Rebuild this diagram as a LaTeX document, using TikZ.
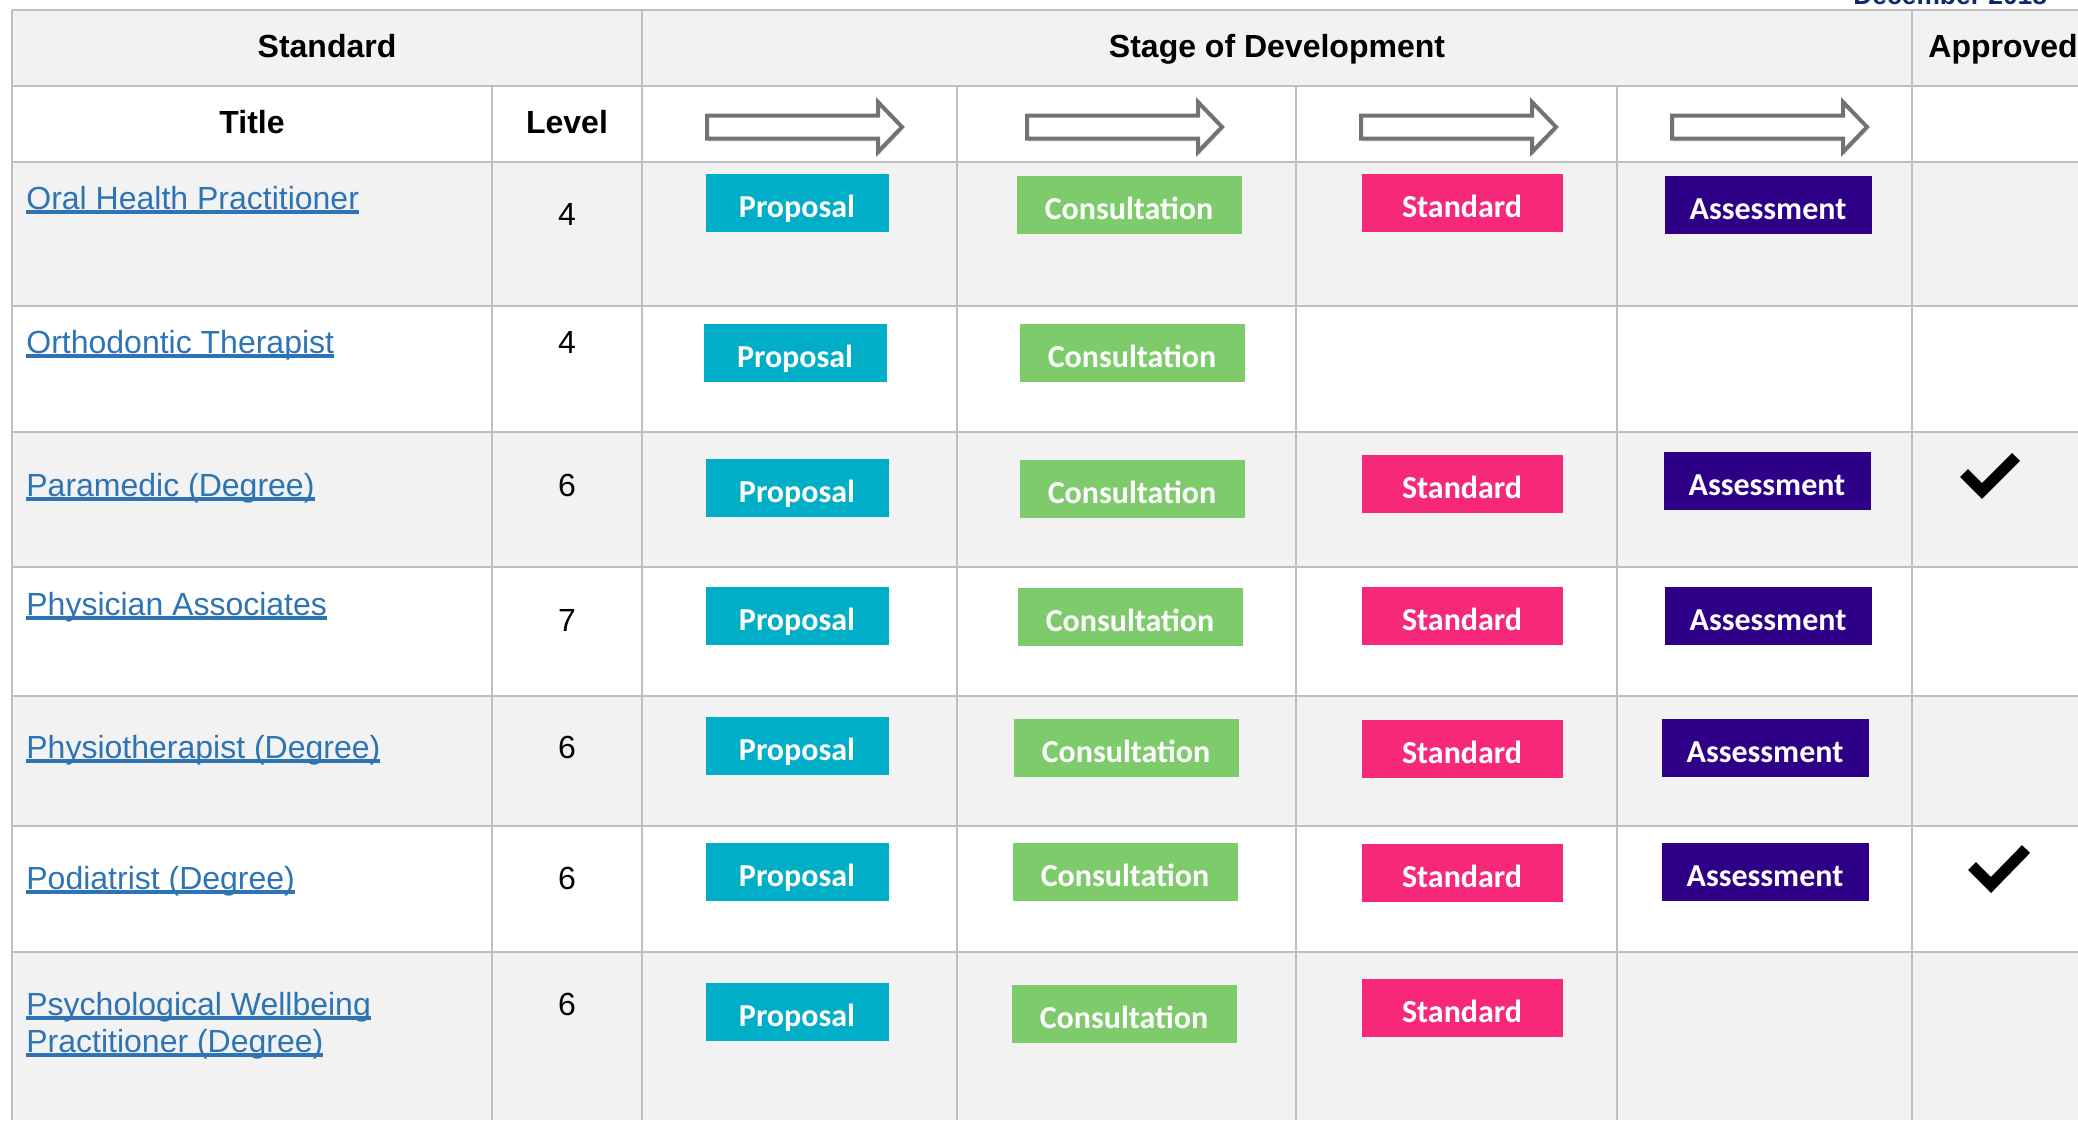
\documentclass[tikz,border=0pt]{standalone}
\usepackage{fontspec}
\setmainfont{Liberation Sans}
\newfontfamily\stagefont{Carlito}
\usetikzlibrary{shapes,shadows}

\definecolor{gridgray}{HTML}{BFBFBF}
\definecolor{cellgray}{HTML}{F2F2F2}
\definecolor{linkblue}{HTML}{2E74B5}
\definecolor{datenavy}{HTML}{0E2A6B}
\definecolor{arrowgray}{HTML}{767171}
\definecolor{propcyan}{HTML}{00AEC7}
\definecolor{consgreen}{HTML}{7ECB6C}
\definecolor{stdpink}{HTML}{F7287A}
\definecolor{assesspurple}{HTML}{2D0087}

% underlined link text
\newcommand{\ulink}[1]{\leavevmode\sbox0{#1}\rlap{\rule[-2.3pt]{\wd0}{1.6pt}}\usebox0}

\begin{document}
\begin{tikzpicture}[x=0.5pt, y=-0.5pt]
		\tikzstyle {cell line} = [gridgray, line width=1.25pt]
		\tikzstyle {head text} = [inner sep=0, anchor=base, font=\fontsize{16}{18.5}\selectfont\bfseries]
		\tikzstyle {title link} = [inner sep=0, anchor=base west, text=linkblue, font=\fontsize{16}{18.5}\selectfont]
		\tikzstyle {lvl text} = [inner sep=0, anchor=base, font=\fontsize{16}{18.5}\selectfont]
		\tikzstyle {stage box} = [inner sep=0, minimum height=29pt, text height=14pt, text depth=0pt, text=white, font=\fontsize{16}{18.5}\stagefont\bfseries]
		\tikzstyle {proposal} = [stage box, fill=propcyan, minimum width=91.5pt]
		\tikzstyle {consultation} = [stage box, fill=consgreen, minimum width=112.5pt]
		\tikzstyle {standard} = [stage box, fill=stdpink, minimum width=100.5pt]
		\tikzstyle {assessment} = [stage box, fill=assesspurple, minimum width=103.5pt]
		\tikzstyle {flow arrow} = [draw=arrowgray, line width=2pt, fill=white, drop shadow={opacity=0.18, shadow xshift=0.6pt, shadow yshift=-1.6pt}]
		\tikzstyle {tick} = [line width=5.6pt]

		\useasboundingbox (0,0) rectangle (2078,1120);

		% shaded rows
		\fill[cellgray] (12,10) rectangle (2078,86);
		\fill[cellgray] (12,162) rectangle (2078,306);
		\fill[cellgray] (12,432) rectangle (2078,567);
		\fill[cellgray] (12,696) rectangle (2078,826);
		\fill[cellgray] (12,952) rectangle (2078,1120);

		% grid
		\foreach \ry in {10,86,162,306,432,567,696,826,952}
			\draw[cell line] (12,\ry) -- (2078,\ry);
		\foreach \cx in {12,642,1912}
			\draw[cell line] (\cx,10) -- (\cx,1120);
		\foreach \cx in {492,957,1296,1617}
			\draw[cell line] (\cx,86) -- (\cx,1120);

		\node (date) [inner sep=0, anchor=base west, text=datenavy, font=\fontsize{13.2}{15}\selectfont\bfseries] at (1853,4) {December 2018};

		% headers
		\node (std) [head text] at (327,57) {Standard};
		\node (stage) [head text] at (1277,57) {Stage of Development};
		\node (appr) [head text, anchor=base west] at (1928,57) {Approved};
		\node (ttl) [head text] at (252,133) {Title};
		\node (lvl) [head text] at (567,133) {Level};

		\foreach \ax in {707,1027,1361,1672}
			\draw[flow arrow] (\ax,115.5) -- ++(171,0) -- ++(0,-13.5) -- ++(24,25) -- ++(-24,25) -- ++(0,-13.5) -- ++(-171,0) -- cycle;

		% titles and levels
		\node (t1) [title link] at (26,209) {\ulink{Oral Health Practitioner}};
		\node (t2) [title link] at (26,353) {\ulink{Orthodontic Therapist}};
		\node (t3) [title link] at (26,496) {\ulink{Paramedic (Degree)}};
		\node (t4) [title link] at (26,615) {\ulink{Physician Associates}};
		\node (t5) [title link] at (26,758) {\ulink{Physiotherapist (Degree)}};
		\node (t6) [title link] at (26,889) {\ulink{Podiatrist (Degree)}};
		\node (t7) [title link] at (26,1015) {\parbox[t]{250pt}{\ulink{Psychological Wellbeing}\\\ulink{Practitioner (Degree)}}};

		\node (l1) [lvl text] at (567,225) {4};
		\node (l2) [lvl text] at (567,353) {4};
		\node (l3) [lvl text] at (567,496) {6};
		\node (l4) [lvl text] at (567,631) {7};
		\node (l5) [lvl text] at (567,758) {6};
		\node (l6) [lvl text] at (567,889) {6};
		\node (l7) [lvl text] at (567,1015) {6};

		% stages
		\node (p1) [proposal] at (797,203) {Proposal};
		\node (c1) [consultation] at (1129,205) {Consultation};
		\node (s1) [standard] at (1462,203) {Standard};
		\node (a1) [assessment] at (1768,205) {Assessment};

		\node (p2) [proposal] at (795,353) {Proposal};
		\node (c2) [consultation] at (1132,353) {Consultation};

		\node (p3) [proposal] at (797,488) {Proposal};
		\node (c3) [consultation] at (1132,489) {Consultation};
		\node (s3) [standard] at (1462,484) {Standard};
		\node (a3) [assessment] at (1767,481) {Assessment};

		\node (p4) [proposal] at (797,616) {Proposal};
		\node (c4) [consultation] at (1130,617) {Consultation};
		\node (s4) [standard] at (1462,616) {Standard};
		\node (a4) [assessment] at (1768,616) {Assessment};

		\node (p5) [proposal] at (797,746) {Proposal};
		\node (c5) [consultation] at (1126,748) {Consultation};
		\node (s5) [standard] at (1462,749) {Standard};
		\node (a5) [assessment] at (1765,748) {Assessment};

		\node (p6) [proposal] at (797,872) {Proposal};
		\node (c6) [consultation] at (1125,872) {Consultation};
		\node (s6) [standard] at (1462,873) {Standard};
		\node (a6) [assessment] at (1765,872) {Assessment};

		\node (p7) [proposal] at (797,1012) {Proposal};
		\node (c7) [consultation] at (1124,1014) {Consultation};
		\node (s7) [standard] at (1462,1008) {Standard};

		% approved ticks
		\draw[tick] (1964,473) -- (1982,491) -- (2016,457);
		\draw[tick] (1972,866) -- (1991,885) -- (2026,849);
\end{tikzpicture}
\end{document}
